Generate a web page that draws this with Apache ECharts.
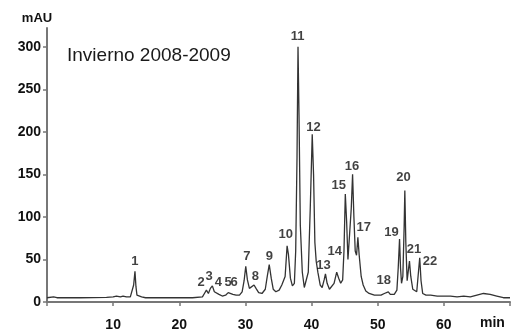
<!DOCTYPE html>
<html>
<head>
<meta charset="utf-8">
<script src="https://cdn.jsdelivr.net/npm/echarts@6/dist/echarts.min.js"></script>
<style>
  html, body { margin: 0; padding: 0; background: #fff; }
  #chart { width: 516px; height: 335px; }
</style>
</head>
<body>
<div id="chart"></div>
<script>
// HPLC chromatogram, winter 2008-2009 sample: absorbance (mAU) against retention time (min)
const retentionTime = [
  0, 1, 1.5, 5, 9, 10, 10.5, 10.8, 11.1, 11.5, 12, 12.6, 12.9, 13.1, 13.3, 13.45, 13.6, 13.9, 14.3, 14.6,
  14.9, 18, 22, 23.5, 23.8, 24.1, 24.4, 24.7, 25.0, 25.3, 25.6, 26.0, 26.5, 27.0, 27.4, 27.7, 28.1, 28.6,
  29.1, 29.5, 29.8, 30.05, 30.3, 30.6, 30.9, 31.3, 31.6, 32.0, 32.5, 33.0, 33.3, 33.6, 33.9, 34.2, 34.6,
  35.1, 35.5, 35.8, 36.0, 36.3, 36.5, 36.8, 37.1, 37.4, 37.6, 37.8, 37.95, 38.1, 38.3, 38.6, 38.9, 39.2,
  39.5, 39.8, 40.1, 40.3, 40.5, 40.7, 40.95, 41.3, 41.6, 41.9, 42.1, 42.35, 42.7, 43.0, 43.4, 43.8, 44.1,
  44.4, 44.7, 44.9, 45.1, 45.3, 45.5, 45.75, 46.0, 46.2, 46.4, 46.6, 46.8, 47.0, 47.2, 47.5, 47.8, 48.2,
  48.7, 49.5, 50.5, 51.0, 51.3, 51.6, 51.9, 52.5, 52.9, 53.1, 53.3, 53.45, 53.6, 53.8, 54.0, 54.1, 54.25,
  54.45, 54.6, 54.8, 55.0, 55.3, 55.6, 55.9, 56.1, 56.35, 56.55, 56.8, 57.3, 58, 59, 60, 61, 62, 63, 64,
  65, 66, 67, 68, 69, 70
];
const absorbance = [
  5, 6, 5, 5, 5.5, 6, 7, 8, 6, 7, 6, 6, 8, 20, 36, 18, 8, 6, 6, 7,
  5, 5, 5, 6, 10, 14, 10, 16, 19, 12, 11, 9, 7, 8, 11, 12, 9, 8,
  8, 12, 25, 42, 26, 16, 14, 20, 16, 11, 10, 15, 30, 44, 28, 15, 12,
  14, 20, 18, 30, 66, 56, 28, 19, 22, 60, 170, 300, 220, 90, 35, 17, 16,
  35, 110, 197, 150, 70, 48, 35, 20, 17, 26, 33, 22, 15, 16, 22, 35, 28,
  22, 26, 60, 127, 95, 50, 80, 110, 150, 100, 60, 55, 76, 55, 30, 20, 13,
  10, 8, 8, 10, 9, 12, 9, 9, 14, 40, 74, 40, 22, 30, 90, 131, 70,
  25, 35, 48, 30, 15, 13, 12, 30, 52, 25, 10, 8, 8, 7, 7, 7, 6, 7, 6,
  8, 10, 9, 7, 5, 5
];

// Peak numbers and where each number sits (time, mAU)
const peakIds = ['1','2','3','4','5','6','7','8','9','10','11','12','13','14','15','16','17','18','19','20','21','22'];
const peakLabelTime = [13.3, 23.3, 24.5, 25.9, 27.4, 28.3, 30.2, 31.5, 33.6, 36.1, 37.9, 40.3, 41.8, 43.5, 44.1, 46.1, 47.9, 50.9, 52.1, 53.9, 55.5, 57.9];
const peakLabelLevel = [48, 23, 30, 23, 23, 23, 53, 30, 53, 79, 312, 205, 43, 59, 137, 159, 88, 25, 82, 146, 62, 48];

const yTicks = [0, 50, 100, 150, 200, 250, 300];
const xTicks = [0, 10, 20, 30, 40, 50, 60, 70];
const xLabels = ['', '10', '20', '30', '40', '50', '60', ''];

const trace = retentionTime.map((t, i) => [t, absorbance[i]]);
const peakMarks = peakIds.map((id, i) => ({ name: id, value: [peakLabelTime[i], peakLabelLevel[i]] }));

const font = '"Liberation Sans", Arial, sans-serif';
const chart = echarts.init(document.getElementById('chart'));
chart.setOption({
  animation: false,
  backgroundColor: '#fff',
  title: {
    text: 'Invierno 2008-2009',
    left: 67,
    top: 46,
    padding: 0,
    textStyle: { fontFamily: font, fontSize: 19, fontWeight: 'normal', color: '#1a1a1a' }
  },
  grid: { left: 47, right: 6, top: 28, bottom: 33 },
  xAxis: {
    type: 'value',
    min: 0,
    max: 70,
    interval: 10,
    name: 'min',
    nameLocation: 'end',
    nameGap: -30,
    nameTextStyle: { fontFamily: font, fontSize: 14, fontWeight: 'bold', color: '#111', verticalAlign: 'top', padding: [14, 0, 0, 0] },
    axisLine: { lineStyle: { color: '#777', width: 2 } },
    axisTick: { length: 4, lineStyle: { color: '#777', width: 1.5 }, customValues: xTicks },
    axisLabel: {
      margin: 16,
      fontFamily: font, fontSize: 14, fontWeight: 'bold', color: '#111',
      customValues: xTicks,
      formatter: v => xLabels[xTicks.indexOf(v)] || ''
    },
    splitLine: { show: false }
  },
  yAxis: {
    type: 'value',
    min: 0,
    max: 322,
    interval: 50,
    name: 'mAU',
    nameLocation: 'end',
    nameGap: 3,
    nameTextStyle: { fontFamily: font, fontSize: 13, fontWeight: 'bold', color: '#111', padding: [0, 20, 0, 0] },
    axisLine: { show: true, lineStyle: { color: '#777', width: 2 } },
    axisTick: { show: true, length: 4, lineStyle: { color: '#777', width: 1.5 }, customValues: yTicks },
    axisLabel: { margin: 6, fontFamily: font, fontSize: 14, fontWeight: 'bold', color: '#111', customValues: yTicks },
    splitLine: { show: false }
  },
  series: [
    {
      type: 'line',
      data: trace,
      showSymbol: false,
      smooth: false,
      lineStyle: { color: '#333', width: 1.3 },
      z: 2
    },
    {
      type: 'scatter',
      data: peakMarks,
      symbolSize: 0,
      silent: true,
      label: {
        show: true,
        position: 'inside',
        formatter: p => p.name,
        fontFamily: font, fontSize: 13, fontWeight: 'bold', color: '#111'
      },
      z: 3
    }
  ]
});
</script>
</body>
</html>
